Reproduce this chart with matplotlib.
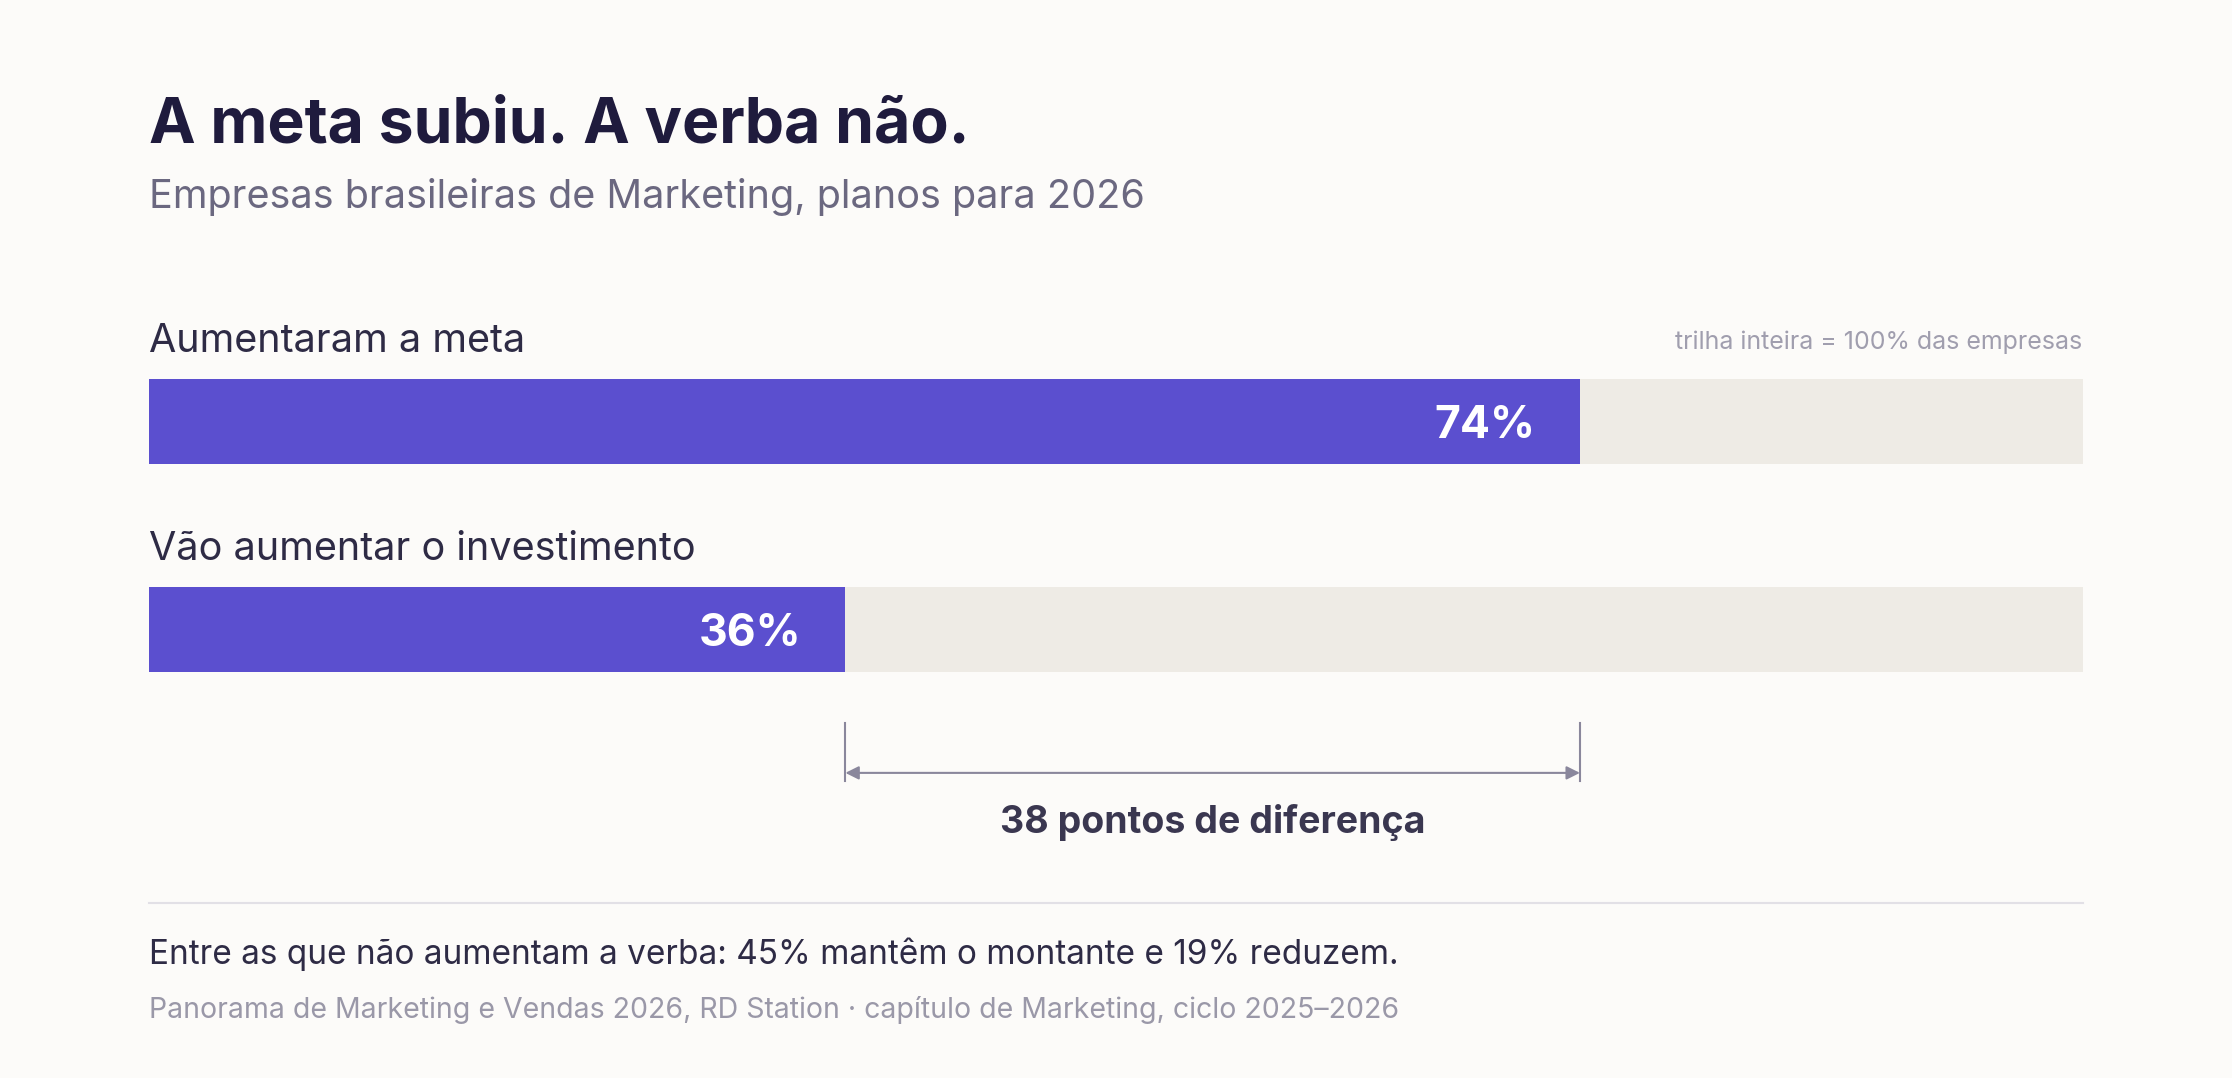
import matplotlib
matplotlib.use("Agg")
import matplotlib.pyplot as plt

categories = ["Aumentaram a meta", "Vão aumentar o investimento"]
values = [74, 36]
track_max = 100
diff_label = "38 pontos de diferença"

W, H = 1568, 757
F = ["Inter", "DejaVu Sans"]
fig = plt.figure(figsize=(22.32, 10.78), dpi=100, facecolor="#FCFBF9")

def fy(y): return 1 - y / H
def fx(x): return x / W

def t(x, y, s, size, color, weight="normal", ha="left"):
    fig.text(fx(x), fy(y), s, fontsize=size, color=color, fontweight=weight,
             ha=ha, va="baseline", family=F)

t(105, 100, "A meta subiu. A verba não.", 45, "#1F1B3D", "bold")
t(105, 146, "Empresas brasileiras de Marketing, planos para 2026", 28.5, "#6B6880")
t(1463, 245, "trilha inteira = 100% das empresas", 18, "#A09EAE", ha="right")

bar_top, bar_bot, spacing = 266, 472, 146
ax = fig.add_axes([fx(105), fy(bar_bot), fx(1463) - fx(105), (bar_bot - bar_top) / H])
ax.set_facecolor("none")
h = 60 / spacing
pos = list(range(len(values)))
ax.barh(pos, [track_max] * len(values), height=h, color="#EEEBE5", zorder=1)
ax.barh(pos, values, height=h, color="#5B4FCF", zorder=2)
ax.set_xlim(0, track_max)
ax.set_ylim(1 + h / 2, -h / 2)
ax.axis("off")
for i, (c, v) in enumerate(zip(categories, values)):
    ax.text(0, i - h / 2 - 0.13, c, fontsize=28.5, color="#2E2B45", va="baseline", ha="left", family=F)
    ax.text(v - 2.3, i + 0.02, f"{v}%", fontsize=32, color="white", fontweight="bold",
            va="center", ha="right", family=F, zorder=3)

lo, hi = min(values), max(values)
y_t0, y_t1, y_ar, y_tx = 1.45, 1.73, 1.69, 1.93
for x in (lo, hi):
    ax.plot([x, x], [y_t0, y_t1], color="#8A879C", lw=1.5, clip_on=False)
ax.annotate("", xy=(lo, y_ar), xytext=(hi, y_ar),
            arrowprops=dict(arrowstyle="<|-|>", color="#8A879C", lw=1.5, mutation_scale=20,
                            shrinkA=0, shrinkB=0), annotation_clip=False)
ax.text((lo + hi) / 2, y_tx, diff_label, fontsize=27, fontweight="bold", color="#3A3750",
        ha="center", va="center", family=F)

fig.add_artist(plt.Line2D([fx(105), fx(1463)], [fy(634), fy(634)], color="#E2E0E6", lw=1.5))
t(105, 677, "Entre as que não aumentam a verba: 45% mantêm o montante e 19% reduzem.", 24, "#2E2B45")
t(105, 715, "Panorama de Marketing e Vendas 2026, RD Station · capítulo de Marketing, ciclo 2025–2026", 20.5, "#9A98A8")

fig.savefig("out.png", dpi=100, facecolor=fig.get_facecolor())
